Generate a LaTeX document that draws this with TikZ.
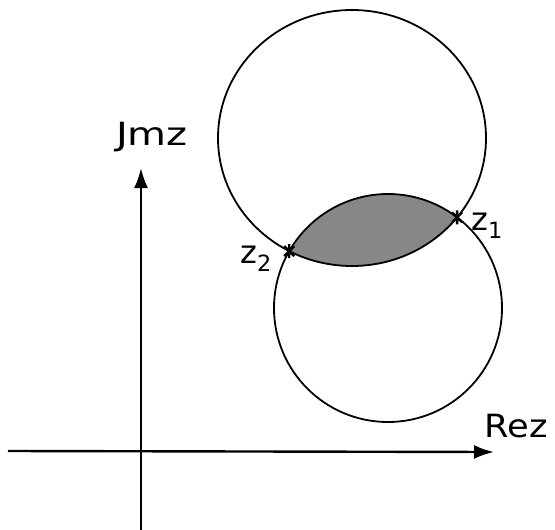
\documentclass[tikz,border=0pt]{standalone}
\usepackage{fontspec}
\setmainfont{DejaVu Sans}
\usetikzlibrary{arrows.meta,intersections}
\definecolor{lensgray}{RGB}{135,135,135}
\tikzset{
  circ/.style={line width=1.8pt,draw=black},
  axis/.style={line width=2.4pt,draw=black,-{Latex[length=20pt,width=14pt]}},
  crossmark/.style={line width=2.4pt,draw=black},
  lbl/.style={inner sep=0pt,font=\fontsize{32}{34}\selectfont}
}
\begin{document}
\begin{tikzpicture}[x=1pt,y=-1pt]
\useasboundingbox (0,0) rectangle (555,530);
\fill[white] (0,0) rectangle (555,530);
% shaded lens
\begin{scope}
  \clip (388,308) circle [radius=114];
  \fill[lensgray] (352,138) ellipse [x radius=134, y radius=128];
\end{scope}
% circles
\draw[circ, name path=up] (352,138) ellipse [x radius=134, y radius=128];
\draw[circ, name path=low] (388,308) circle [radius=114];
\path[name intersections={of=up and low, name=i}];
% intersection marks
\foreach \p in {i-1,i-2}{
  \draw[crossmark] (\p) +(-5,-5) -- +(5,5) (\p) +(-5,5) -- +(5,-5) (\p) +(0,-7) -- +(0,7);
}
% axes
\coordinate (xl) at (8,451);
\coordinate (xr) at (494,452);
\coordinate (yb) at (141,530);
\coordinate (yt) at (141,168);
\draw[axis] (xl) -- (xr);
\draw[axis] (yb) -- (yt);
% labels
\node[lbl, xscale=1.25] (im) at (152,137) {Jmz};
\node[lbl, xscale=1.1] (re) at (516,426) {Rez};
\node[lbl, anchor=west] (z1) at (471,226) {z\textsubscript{1}};
\node[lbl] (z2) at (256,259) {z\textsubscript{2}};
\end{tikzpicture}
\end{document}
